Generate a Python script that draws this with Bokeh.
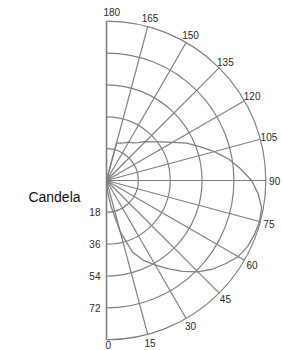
import numpy as np
from bokeh.plotting import figure
from bokeh.models import Range1d
from bokeh.core.properties import value
from bokeh.embed import file_html
from bokeh.resources import INLINE

# ---- data ----
curve_angles = [0, 5, 10, 15, 20, 25, 30, 35, 40, 45, 50, 55, 60, 65, 70, 75, 80, 85, 90,
                95, 100, 105, 110, 115, 120, 125, 130, 135, 140, 145, 150, 155, 160, 165, 170]
curve_candela = [0, 6, 15, 30, 43, 50, 55, 61, 67, 73, 78, 82, 86, 88, 89, 89.5, 89, 86, 82,
                 76, 70, 63, 56, 50, 43, 38, 34, 31, 28, 26, 25, 23.5, 22.5, 22, 0]
ring_values = [18, 36, 54, 72, 90]
ring_labels = ["18", "36", "54", "72"]
spoke_angles = [15, 30, 45, 60, 75, 90, 105, 120, 135, 150, 165]
angle_ticks = [0, 15, 30, 45, 60, 75, 90, 105, 120, 135, 150, 165, 180]
angle_labels = ["0", "15", "30", "45", "60", "75", "90", "105", "120", "135", "150", "165", "180"]
axis_title = "Candela"

# ---- geometry ----
W, H = 282, 350
PX = 1.77           # pixels per candela unit
cx, cy = 106, 180   # centre in figure pixels
R = max(ring_values)

p = figure(width=W, height=H, output_backend="svg", toolbar_location=None,
           x_range=Range1d(-cx / PX, (W - cx) / PX),
           y_range=Range1d(-(H - cy) / PX, cy / PX),
           min_border=0, outline_line_color=None)
p.axis.visible = False
p.grid.visible = False
p.background_fill_color = "white"

grid_col = "#808080"
txt_col = "#2a2a2a"

# rings (right half circles)
p.arc(x=0, y=0, radius=ring_values, start_angle=-np.pi / 2, end_angle=np.pi / 2,
      line_color=grid_col, line_width=1.2)

# spokes
th = np.radians(spoke_angles)
p.segment(x0=0, y0=0, x1=R * np.sin(th), y1=-R * np.cos(th),
          line_color=grid_col, line_width=1.2)

# vertical axis line (0 - 180)
p.segment(x0=[0], y0=[-R], x1=[0], y1=[R], line_color=grid_col, line_width=1.6)

# candela curve
ca = np.radians(curve_angles)
cr = np.array(curve_candela)
p.line(cr * np.sin(ca), -cr * np.cos(ca), line_color=grid_col, line_width=1.3)

# angle labels
rl = 95.0
ta = np.radians(angle_ticks)
lx = rl * np.sin(ta)
ly = -rl * np.cos(ta)
ly[0] = -93.2
lx[0] = 1.0
lx[-1] = lx[-1] + 3
p.text(x=lx, y=ly, text=angle_labels, text_align="center", text_baseline="middle",
       text_font=value("Liberation Sans"), text_font_size="10px", text_color=txt_col)

# radius labels
p.text(x=[-3.4] * len(ring_labels), y=[-v for v in ring_values[:len(ring_labels)]],
       text=ring_labels, text_align="right", text_baseline="middle",
       text_font=value("Liberation Sans"), text_font_size="10px", text_color=txt_col)

# axis title
p.text(x=[-29.4], y=[-9.6], text=[axis_title], text_align="center", text_baseline="middle",
       text_font=value("Liberation Sans"), text_font_size="14px", text_color="#111111")

open("out.html", "w").write(file_html(p, INLINE))
